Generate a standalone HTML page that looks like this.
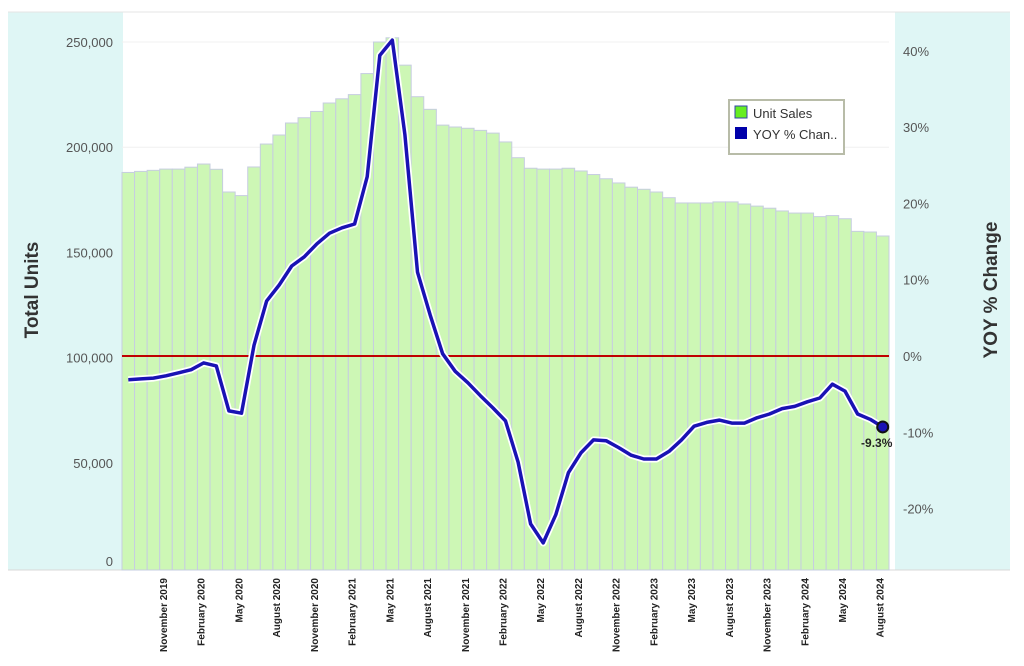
<!DOCTYPE html>
<html><head><meta charset="utf-8"><style>
body{margin:0;background:#fff;font-family:"Liberation Sans","DejaVu Sans",sans-serif}
svg{display:block}
</style></head><body>
<svg id="chart" width="1024" height="666" viewBox="0 0 1024 666">
<rect x="8" y="12" width="115" height="558" fill="#dff6f5"/>
<rect x="895" y="12" width="115" height="558" fill="#dff6f5"/>
<line x1="8" y1="12" x2="1010" y2="12" stroke="#e4e4e4"/>
<line x1="8" y1="570" x2="1010" y2="570" stroke="#d8d8d8"/>
<g id="grid"></g>
<g id="bars"></g>
<g id="ticks"></g>
<line id="zero" stroke="#c00000" stroke-width="2"/>
<g id="line"></g>
<text x="38" y="290" transform="rotate(-90 38 290)" text-anchor="middle" font-size="19" font-weight="bold" fill="#333">Total Units</text>
<text x="997" y="290" transform="rotate(-90 997 290)" text-anchor="middle" font-size="19" font-weight="bold" fill="#333">YOY % Change</text>
<g>
<rect x="729" y="100" width="115" height="54" fill="#fff" stroke="#b8bca8" stroke-width="2"/>
<g><rect x="735" y="106" width="12" height="12" fill="#66ee22" stroke="#3344aa"/><text x="753" y="118" font-size="13" fill="#333">Unit Sales</text></g>
<g><rect x="735" y="127" width="12" height="12" fill="#0000aa"/><text x="753" y="139" font-size="13" fill="#333">YOY % Chan..</text></g>
</g>
</svg>
<script>
const months=["Jan","Feb","Mar","Apr","May","Jun","Jul","Aug","Sep","Oct","Nov","Dec"];
const fullMonths={Nov:"November",Feb:"February",May:"May",Aug:"August"};
const startYear=2019;
const unitSales=[188000,188500,189000,189600,189600,190500,192000,189500,178700,177000,190600,201500,205800,211500,214000,217000,221000,223000,225000,235000,250000,252000,239000,224000,218000,210500,209600,209000,208000,206700,202500,195000,190000,189600,189600,190000,188700,187000,185000,183000,181000,180000,178700,176000,173500,173500,173500,174000,174000,173000,172000,171000,169700,168700,168700,167000,167500,166000,160000,159700,157800];
const yoy=[-3.1,-3.0,-2.9,-2.6,-2.2,-1.8,-0.9,-1.3,-7.2,-7.5,1.4,7.2,9.3,11.8,13,14.7,16.1,16.8,17.3,23.5,39.4,41.4,29,11,5.4,0.3,-2,-3.5,-5.2,-6.8,-8.5,-13.9,-22,-24.5,-20.8,-15.3,-12.7,-11,-11.1,-12,-13,-13.5,-13.5,-12.5,-11,-9.2,-8.7,-8.4,-8.8,-8.8,-8.1,-7.6,-6.9,-6.6,-6,-5.5,-3.7,-4.6,-7.6,-8.3,-9.3];
const leftTicks=[0,50000,100000,150000,200000,250000];
const rightTicks=[-20,-10,0,10,20,30,40];
const NS="http://www.w3.org/2000/svg";
const X0=122,X1=889,n=unitSales.length,bw=(X1-X0)/n;
const xc=i=>X0+bw*(i+0.5);
const yL=v=>568-v/250000*526;
const yR=v=>356-v*7.63;
function mk(tag,attrs,parent){const e=document.createElementNS(NS,tag);for(const k in attrs)e.setAttribute(k,attrs[k]);parent.appendChild(e);return e;}
const grid=document.getElementById('grid'),bars=document.getElementById('bars'),ticks=document.getElementById('ticks'),lg=document.getElementById('line');
leftTicks.forEach(v=>{
  const l=mk('line',{x1:X0,x2:X1,y1:yL(v),y2:yL(v),stroke:'#f0f0f0'},grid);
  
  
  const t=mk('text',{x:113,y:yL(v)+(v===0?-2:5),'text-anchor':'end','font-size':13,fill:'#555'},ticks);
  t.textContent=v.toLocaleString('en-US');
  
  
});
rightTicks.forEach(v=>{
  const t=mk('text',{x:903,y:yR(v)+5,'font-size':13,fill:'#555'},ticks);
  t.textContent=v+'%';
  
  
});
unitSales.forEach((v,i)=>{
  const r=mk('rect',{x:X0+bw*i,y:yL(v),width:bw,height:570-yL(v),fill:'#cdf7b5',stroke:'#c6cde0','stroke-width':1},bars);
  
  
  const mi=(7+i)%12,yr=startYear+Math.floor((7+i)/12);
  const m=months[mi];
  if(fullMonths[m]&&i>=3){
    const x=xc(i)+1,y=578;
    const t=mk('text',{x:x,y:y,transform:`rotate(-90 ${x} ${y})`,'text-anchor':'end','font-size':10,'font-weight':'bold',fill:'#222'},ticks);
    t.textContent=fullMonths[m]+' '+yr;
    
    
  }
});
const z=document.getElementById('zero');z.setAttribute('x1',X0);z.setAttribute('x2',X1);z.setAttribute('y1',yR(0));z.setAttribute('y2',yR(0));
const pts=yoy.map((v,i)=>xc(i).toFixed(1)+','+yR(v).toFixed(1)).join(' ');
const halo=mk('polyline',{points:pts,fill:'none',stroke:'#fff','stroke-width':7,'stroke-linejoin':'round'},lg);


const pl=mk('polyline',{points:pts,fill:'none',stroke:'#1a12b4','stroke-width':3.5,'stroke-linejoin':'round'},lg);


const li=n-1;
const dot=mk('circle',{cx:xc(li),cy:yR(yoy[li]),r:5.5,fill:'#1a12b4',stroke:'#111','stroke-width':2},lg);


const lbl=mk('text',{x:xc(li)-6,y:yR(yoy[li])+20,'text-anchor':'middle','font-size':12,'font-weight':'bold',fill:'#222'},lg);
lbl.textContent=yoy[li]+'%';


</script>
</body></html>
